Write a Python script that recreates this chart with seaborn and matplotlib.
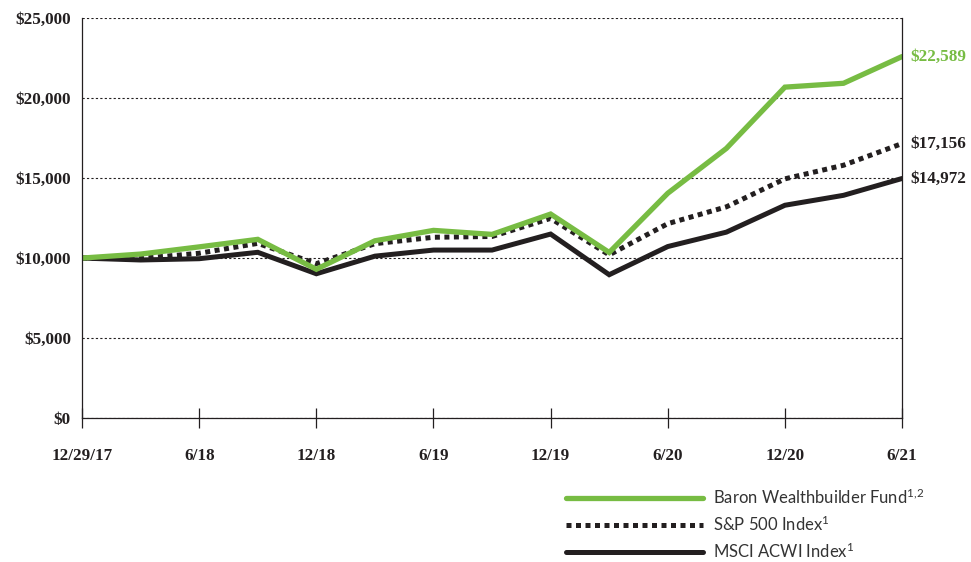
import numpy as np
import pandas as pd
import matplotlib
matplotlib.use("Agg")
import matplotlib.pyplot as plt
import seaborn as sns

# quarter-end values of a hypothetical $10,000 investment
quarters = ["12/17", "3/18", "6/18", "9/18", "12/18", "3/19", "6/19", "9/19",
            "12/19", "3/20", "6/20", "9/20", "12/20", "3/21", "6/21"]
baron = [10000, 10250, 10700, 11170, 9300, 11080, 11730, 11480,
         12750, 10350, 14050, 16850, 20680, 20920, 22589]
sp500 = [10000, 9980, 10300, 10920, 9650, 10900, 11300, 11350,
         12480, 10200, 12150, 13200, 14950, 15800, 17156]
msci = [10000, 9880, 9960, 10360, 9020, 10120, 10500, 10500,
        11500, 8960, 10720, 11620, 13300, 13920, 14972]
tick_labels = ["12/29/17", "6/18", "12/18", "6/19", "12/19", "6/20", "12/20", "6/21"]
end_labels = ["$22,589", "$17,156", "$14,972"]

df = pd.DataFrame({"q": np.arange(len(quarters)), "baron": baron, "sp500": sp500, "msci": msci})

sns.set_style("white")
plt.rcParams["font.family"] = ["Lato", "DejaVu Sans"]
plt.rcParams["mathtext.fontset"] = "custom"
plt.rcParams["mathtext.rm"] = "Lato"
plt.rcParams["mathtext.it"] = "Lato"

green = "#77bc43"
dark = "#231f20"

fig = plt.figure(figsize=(9.71, 5.62), dpi=100)
ax = fig.add_axes([0.0845, 0.256, 0.8445, 0.712])

sns.lineplot(data=df, x="q", y="msci", color=dark, linewidth=3.6, ax=ax,
             label="MSCI ACWI Index$^{1}$", solid_joinstyle="miter")
sns.lineplot(data=df, x="q", y="sp500", color=dark, linewidth=3.6, ax=ax,
             linestyle=(0, (1.0, 0.9)), label="S&P 500 Index$^{1}$")
sns.lineplot(data=df, x="q", y="baron", color=green, linewidth=3.8, ax=ax,
             label="Baron Wealthbuilder Fund$^{1{,}2}$", solid_joinstyle="miter")

ax.set_xlim(0, len(quarters) - 1)
ax.set_ylim(0, 25000)
ax.set_xticks(np.arange(0, len(quarters), 2))
ax.set_xticklabels(tick_labels)
ax.set_yticks(np.arange(0, 25001, 5000))
ax.set_yticklabels(["${:,}".format(v) for v in range(0, 25001, 5000)])
ax.set_xlabel(None)
ax.set_ylabel(None)

for lab in ax.get_xticklabels() + ax.get_yticklabels():
    lab.set_fontfamily("Liberation Serif")
    lab.set_fontweight("bold")
    lab.set_fontsize(12.3)
    lab.set_color(dark)

ax.tick_params(axis="x", bottom=True, direction="inout", length=15, width=0.9,
               color=dark, pad=14)
ax.tick_params(axis="y", left=False, length=0, pad=8)

ax.yaxis.grid(True, linestyle=(0, (2, 2)), linewidth=0.8, color=dark)
ax.set_axisbelow(True)
for s in ["left", "right", "bottom"]:
    ax.spines[s].set_visible(True)
    ax.spines[s].set_color(dark)
    ax.spines[s].set_linewidth(0.9)
ax.spines["top"].set_visible(False)

# end-of-line value labels
ends = [baron[-1], sp500[-1], msci[-1]]
colors = [green, dark, dark]
for txt, v, c in zip(end_labels, ends, colors):
    ax.annotate(txt, xy=(len(quarters) - 1, v), xytext=(6, 0), textcoords="offset points",
                va="center", ha="left", fontsize=12.3, fontweight="bold",
                family="Liberation Serif", color=c, annotation_clip=False)

# legend in figure coords, order green / S&P / MSCI
handles, labels = ax.get_legend_handles_labels()
ax.get_legend().remove()
order = [2, 1, 0]
fig.legend([handles[i] for i in order], [labels[i] for i in order],
           loc="upper left", bbox_to_anchor=(0.583, 0.132), frameon=False,
           fontsize=12, handlelength=8.2, handletextpad=0.6, labelspacing=0.45,
           labelcolor="#333333", borderaxespad=0, borderpad=0)

fig.savefig("out.png", dpi=100)
